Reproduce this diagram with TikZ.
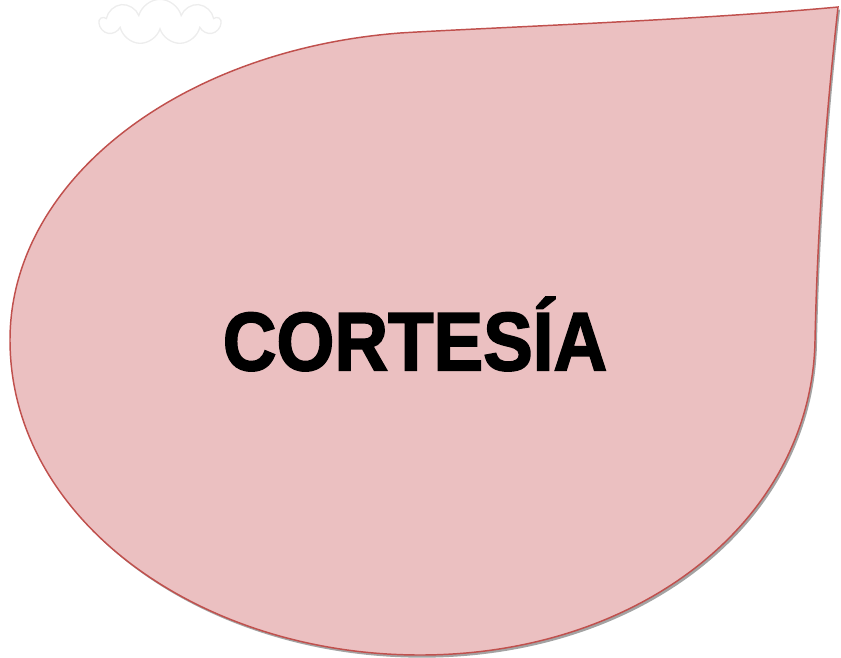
\documentclass[tikz,border=0pt]{standalone}
\usepackage{fontspec}
\setmainfont{Liberation Sans}
\newfontfamily\dropfont{Liberation Sans Bold}[FakeBold=2.2]
\usetikzlibrary{shapes.symbols,shadows}
\definecolor{droppink}{HTML}{EBC0C1}
\definecolor{dropred}{HTML}{C0504D}
\definecolor{cloudgray}{HTML}{EDEDED}
\tikzset{
  dropshape/.style={fill=droppink, draw=dropred, line width=1.1pt,
    drop shadow={shadow xshift=1.5pt, shadow yshift=-2pt, fill=black!45, opacity=0.8}},
  droptitle/.style={font=\dropfont\fontsize{62}{68}\selectfont, text=black, inner sep=0pt},
  cloudmark/.style={cloud, cloud puffs=9, draw=cloudgray, line width=1pt, aspect=2.4}
}
\begin{document}
\begin{tikzpicture}[x=0.75pt, y=-0.75pt]
\useasboundingbox (0,0) rectangle (841,657);
% faint clipart left behind the drop
\node[cloudmark, minimum width=90pt, minimum height=34pt] (cloud) at (160,22) {};
% the drop
\path[dropshape] (838,7) .. controls (700,20) and (480,28) .. (400,33)
  .. controls (180,50) and (10,180) .. (10,340)
  .. controls (10,520) and (200,655) .. (420,655)
  .. controls (640,655) and (812,520) .. (815,340)
  .. controls (818,200) and (830,80) .. (838,7) -- cycle;
\node[droptitle, xscale=0.9] (title) at (415,334) {CORTESÍA};
\end{tikzpicture}
\end{document}
